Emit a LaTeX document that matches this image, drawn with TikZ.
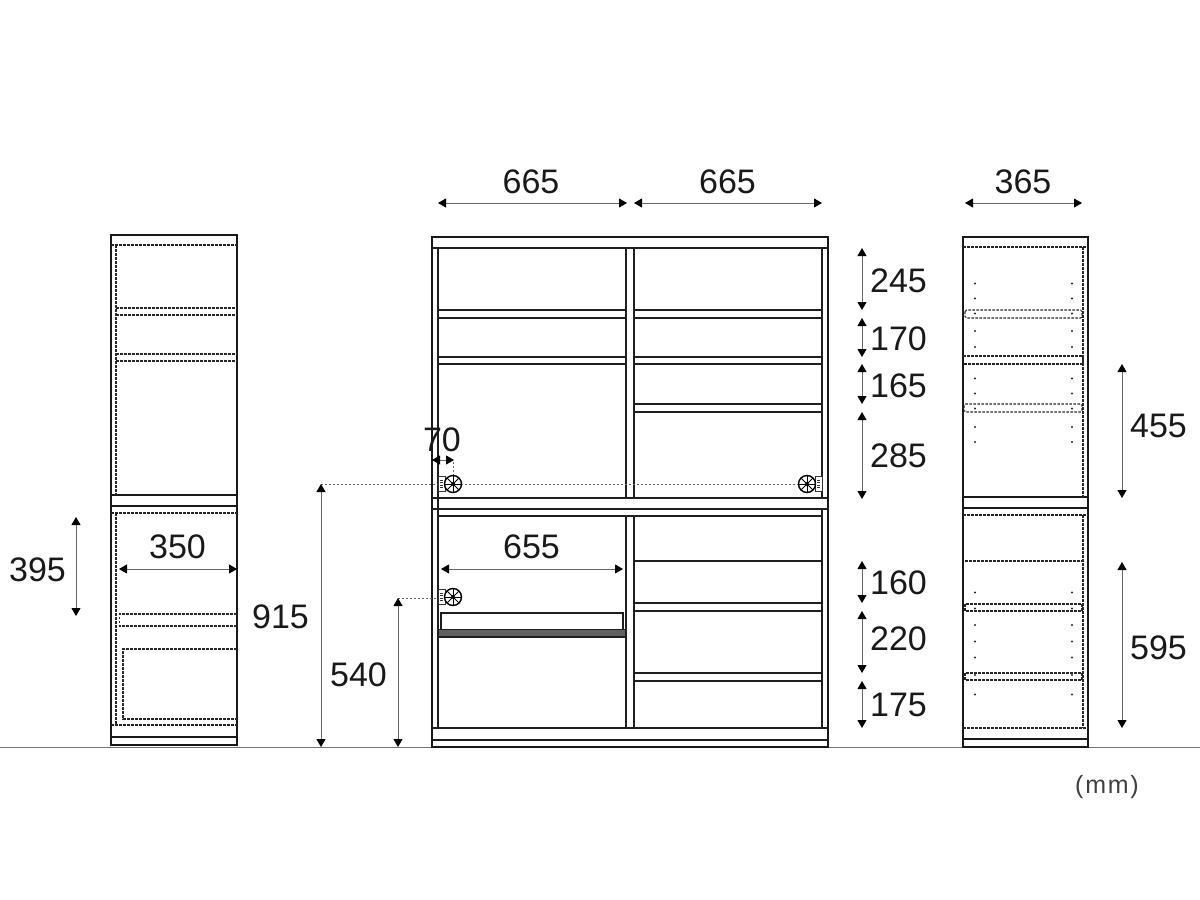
\documentclass[tikz,border=0pt]{standalone}
\usepackage{fontspec}
\setmainfont{Liberation Sans}
\usetikzlibrary{arrows.meta}
\tikzset{
  board/.style={draw=black!88,line width=1.35pt},
  frame/.style={draw=black!90,line width=1.6pt},
  hidden/.style={draw=black!85,line width=1.05pt,dash pattern=on 2.6pt off 1.4pt},
  sight/.style={draw=black!60,line width=0.8pt,dash pattern=on 2pt off 2pt},
  dimline/.style={draw=black!60,line width=1pt,{Triangle[length=8pt,width=9pt,black]}-{Triangle[length=8pt,width=9pt,black]}},
  dimlabel/.style={font=\fontsize{34}{34}\selectfont,text=black!90,inner sep=0pt}
}
\begin{document}
\begin{tikzpicture}[x=1pt,y=-1pt]
\useasboundingbox (0,0) rectangle (1200,900);
\path[fill=white] (0,0) rectangle (1200,900);

% floor
\path[draw,black!55,line width=1.4pt] (0,747.5) -- (1200,747.5);

% left side view
\draw[frame,fill=white] (111,235) rectangle (237,745);
\path[draw,frame] (111,495) -- (237,495);
\path[draw,frame] (111,506) -- (237,506);
\path[draw,frame] (111,737) -- (237,737);
\path[draw,hidden] (111,245) -- (237,245);
\path[draw,hidden] (116,245) -- (116,495);
\path[draw,hidden] (116,308) -- (237,308);
\path[draw,hidden] (116,315) -- (237,315);
\path[draw,hidden] (116,354) -- (237,354);
\path[draw,hidden] (116,361) -- (237,361);
\path[draw,hidden] (111,513) -- (237,513);
\path[draw,hidden] (116,513) -- (116,725);
\path[draw,hidden] (111,725) -- (237,725);
\path[draw,hidden] (237,614) -- (119.5,614) -- (119.5,626) -- (237,626);
\path[draw,hidden] (237,649) -- (123,649) -- (123,719) -- (237,719);

% center front view
\draw[frame,fill=white] (432,237) rectangle (828,747);
\path[draw,board] (432,248) -- (828,248);
\path[draw,board] (432,498) -- (828,498);
\path[draw,board] (432,509) -- (828,509);
\path[draw,board] (438,516) -- (822,516);
\path[draw,board] (432,728) -- (828,728);
\path[draw,board] (432,740) -- (828,740);
\foreach \sx in {438,626,634,822} {
  \path[draw,board] (\sx,248) -- (\sx,498);
  \path[draw,board] (\sx,516) -- (\sx,728);
}
\path[draw,board] (438,498) -- (438,516);
\path[draw,board] (822,509) -- (822,516);

% shelves
\foreach \sy in {310,318,357,364} {
  \path[draw,board] (438,\sy) -- (626,\sy);
  \path[draw,board] (634,\sy) -- (822,\sy);
}
\foreach \sy in {404,412,561,603,611,673,681} {
  \path[draw,board] (634,\sy) -- (822,\sy);
}

% slide tray
\path[draw,board] (441,629) -- (441,613) -- (623,613) -- (623,629);
\path[draw=black!88,fill=black!62,line width=1.2pt] (438,629.5) rectangle (626,637);

% sight lines
\path[draw,sight] (321,484) -- (807,484);
\path[draw,sight] (398,598) -- (438,598);
\path[draw,sight] (453,462) -- (453,476);

% outlets
\foreach \wx/\wy/\px in {453/484/438,807/484/815,453/597/438} {
  \path[draw,black!80,fill=white,line width=1pt] (\px,\wy-7.5) rectangle (\px+7,\wy+7.5);
  \foreach \ty in {-4,-1.5,1,3.5} {
    \path[draw,black!80,line width=0.8pt] (\px+2,\wy+\ty) -- (\px+5,\wy+\ty);
  }
  \path[draw,black,fill=white,line width=1.4pt] (\wx,\wy) circle [radius=8.5];
  \foreach \wa in {0,45,...,315} {
    \path[draw,black,line width=1pt] (\wx,\wy) -- ([shift={(\wx,\wy)}]\wa:8.5);
  }
  \draw[fill] (\wx,\wy) circle [radius=1.8];
}

% right side view
\draw[frame,fill=white] (963,237) rectangle (1088,747);
\path[draw,frame] (963,497) -- (1088,497);
\path[draw,frame] (963,508) -- (1088,508);
\path[draw,frame] (963,739) -- (1088,739);
\path[draw,hidden] (963,247) -- (1088,247);
\path[draw,hidden] (1083,247) -- (1083,497);
\path[draw,hidden] (963,356) -- (1083,356) -- (1083,364) -- (963,364);
\path[draw,hidden,rounded corners=1.5pt] (965,310) rectangle (1082,318);
\path[draw,hidden,rounded corners=1.5pt] (964,404) rectangle (1082,412);
\path[draw,hidden] (963,515) -- (1088,515);
\path[draw,hidden] (1083,515) -- (1083,728);
\path[draw,hidden] (963,728) -- (1088,728);
\path[draw,hidden] (965,561) -- (1083,561);
\path[draw,hidden] (965,604) rectangle (1082,611);
\path[draw,hidden] (965,673) rectangle (1082,680);

% shelf pin holes
\foreach \hy in {283.5,298.5,313.5,331,347,378.5,393.5,408.5,427,442,592.5,608.5,625,641.5,657.5,675,694.5} {
  \path[fill=black!85] (975,\hy) circle [radius=1.2];
  \path[fill=black!85] (1072,\hy) circle [radius=1.2];
}

% dimension arrows
\path[draw,dimline] (438,203) -- (627,203);
\path[draw,dimline] (634,203) -- (822,203);
\path[draw,dimline] (965,203) -- (1082,203);
\path[draw,dimline] (119,569) -- (237,569);
\path[draw,dimline] (441,569) -- (623,569);
\path[draw,dimline] (432,460) -- (454,460);
\path[draw,dimline] (76,517) -- (76,616);
\path[draw,dimline] (321,484) -- (321,747);
\path[draw,dimline] (398,598) -- (398,747);
\path[draw,dimline] (862,248) -- (862,310);
\path[draw,dimline] (862,318) -- (862,357);
\path[draw,dimline] (862,364) -- (862,404);
\path[draw,dimline] (862,412) -- (862,499);
\path[draw,dimline] (862,561) -- (862,603);
\path[draw,dimline] (862,611) -- (862,673);
\path[draw,dimline] (862,681) -- (862,728);
\path[draw,dimline] (1122,364) -- (1122,498);
\path[draw,dimline] (1122,562) -- (1122,728);

% dimension labels
\node[dimlabel] (widthleft) at (531,181.5) {665};
\node[dimlabel] (widthright) at (727.5,181.5) {665};
\node[dimlabel] (depthright) at (1023,181.5) {365};
\node[dimlabel] (depthleft) at (177.5,546.5) {350};
\node[dimlabel] (innerwidth) at (531.5,546.5) {655};
\node[dimlabel] (outletinset) at (442,439.5) {70};
\node[dimlabel] (trayheight) at (37.5,569.5) {395};
\node[dimlabel] (outletupper) at (280.5,616.5) {915};
\node[dimlabel] (outletlower) at (358.5,674.5) {540};
\node[dimlabel] (gapa) at (898.5,280.5) {245};
\node[dimlabel] (gapb) at (898.5,338.5) {170};
\node[dimlabel] (gapc) at (898.5,385.5) {165};
\node[dimlabel] (gapd) at (898.5,455.5) {285};
\node[dimlabel] (gape) at (898.5,582.5) {160};
\node[dimlabel] (gapf) at (898.5,638.5) {220};
\node[dimlabel] (gapg) at (898.5,704.5) {175};
\node[dimlabel] (sideupper) at (1158.5,425.5) {455};
\node[dimlabel] (sidelower) at (1158.5,647.5) {595};
\node[dimlabel,font=\fontsize{25}{25}\selectfont\addfontfeature{LetterSpace=7},text=black!75] (unitmark) at (1107,787) {(mm)};
\end{tikzpicture}
\end{document}
